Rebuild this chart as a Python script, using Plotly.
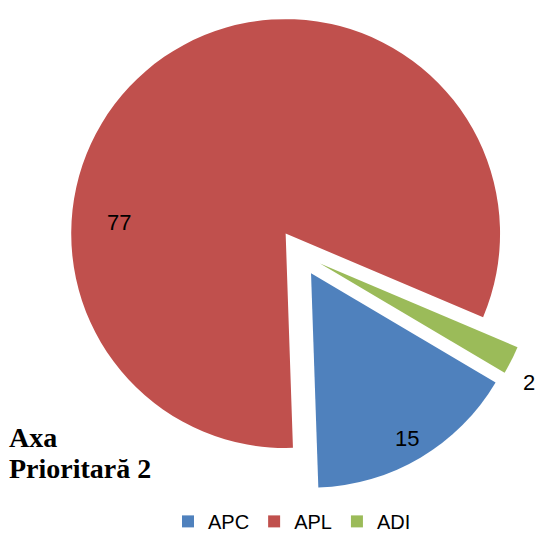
import plotly.graph_objects as go

categories = ["APC", "APL", "ADI"]
values = [15, 77, 2]
colors = ["#4F81BD", "#C0504D", "#9BBB59"]
title_lines = ["Axa", "Prioritară 2"]

W, H = 537, 535

fig = go.Figure(
    go.Pie(
        labels=categories,
        values=values,
        sort=False,
        direction="clockwise",
        rotation=120.6,
        pull=[0.11, 0.11, 0.11],
        marker=dict(colors=colors, line=dict(width=0)),
        textinfo="none",
        domain=dict(x=[61 / W, 1], y=[1 - 506 / H, 1]),
        hoverinfo="label+value",
        showlegend=True,
    )
)

# value labels (placed as in the reference, text taken from the data)
label_px = [(407, 438), (119, 222), (529, 383)]
for v, (px, py) in zip(values, label_px):
    fig.add_annotation(
        text=str(v), xref="paper", yref="paper",
        x=px / W, y=(H - py) / H, xanchor="center", yanchor="middle",
        showarrow=False, font=dict(family="Liberation Sans", size=22, color="#000000"),
    )

fig.add_annotation(
    text=f"<b>{title_lines[0]}</b>", xref="paper", yref="paper",
    x=7 / W, y=(H - 437) / H, xanchor="left", yanchor="middle",
    showarrow=False, font=dict(family="Liberation Serif", size=28, color="#000000"),
)
fig.add_annotation(
    text=f"<b>{title_lines[1]}</b>", xref="paper", yref="paper",
    x=7 / W, y=(H - 468.5) / H, xanchor="left", yanchor="middle",
    showarrow=False, font=dict(family="Liberation Serif", size=28, color="#000000"),
)

fig.update_layout(
    width=W, height=H,
    margin=dict(l=0, r=0, t=0, b=0, autoexpand=False),
    paper_bgcolor="white",
    plot_bgcolor="white",
    legend=dict(
        orientation="h", x=292 / W, xanchor="center", y=-0.011, yanchor="bottom",
        font=dict(family="Liberation Sans", size=20, color="#000000"),
        traceorder="normal",
    ),
)

fig.write_html(
    "out.html",
    config={"displayModeBar": False},
    post_script="document.body.style.margin='0';",
)
